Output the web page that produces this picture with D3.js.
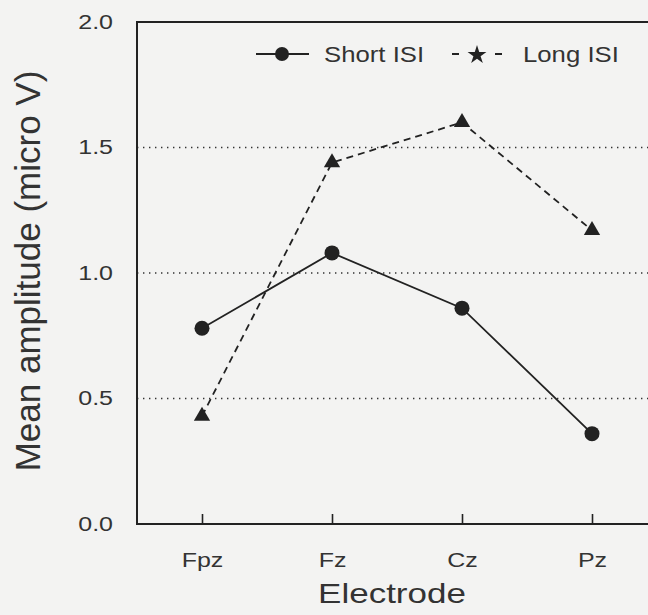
<!DOCTYPE html>
<meta charset="utf-8">
<style>
body {
  margin: 0;
  background: #f3f3f2;
  font-family: "Liberation Sans", Arial, Helvetica, sans-serif;
}

text {
  fill: #333;
}
</style>
<body>
<script src="https://d3js.org/d3.v7.min.js"></script>
<script>

// electrodes along x, mean amplitudes (micro V) per ISI condition
var electrodes = ["Fpz", "Fz", "Cz", "Pz"];
var shortISI = [0.78, 1.08, 0.86, 0.36];
var longISI = [0.43, 1.44, 1.60, 1.17];
var yTicks = [0, 0.5, 1.0, 1.5, 2.0];
var gridValues = [0.5, 1.0, 1.5];

var width = 648,
    height = 615;

var plotLeft = 137, plotTop = 22, plotRight = 657, plotBottom = 524;
var sx = 1.25; // horizontal text stretch of the scanned figure
var ink = "#222";

var svg = d3.select("body").append("svg")
    .attr("width", width)
    .attr("height", height);

var x = d3.scalePoint()
    .domain(electrodes)
    .range([plotLeft, plotRight])
    .padding(0.5);

var y = d3.scaleLinear()
    .domain([0, 2])
    .range([plotBottom, plotTop]);

// dotted reference lines
svg.selectAll(".grid")
    .data(gridValues)
  .enter().append("line")
    .attr("class", "grid")
    .attr("x1", plotLeft)
    .attr("x2", plotRight + 20)
    .attr("y1", function(d) { return y(d); })
    .attr("y2", function(d) { return y(d); })
    .attr("stroke", "#333")
    .attr("stroke-width", 1.4)
    .attr("stroke-dasharray", "1.4,4.6");

// frame
svg.append("rect")
    .attr("x", plotLeft)
    .attr("y", plotTop)
    .attr("width", plotRight + 20 - plotLeft)
    .attr("height", plotBottom - plotTop)
    .attr("fill", "none")
    .attr("stroke", ink)
    .attr("stroke-width", 2);

// y axis, labels only
var yAxis = svg.append("g")
    .attr("transform", "translate(" + plotLeft + ",0)")
    .call(d3.axisLeft(y).tickValues(yTicks).tickFormat(d3.format(".1f")).tickSize(0).tickPadding(24));
yAxis.select(".domain").remove();
yAxis.selectAll("text")
    .attr("x", -24 / sx)
    .attr("transform", "scale(" + sx + ",1)")
    .style("font-size", "20px")
    .style("font-family", "Liberation Sans, Arial, sans-serif")
    .attr("fill", "#333");

// x axis, inward ticks
var xAxis = svg.append("g")
    .attr("transform", "translate(0," + plotBottom + ")")
    .call(d3.axisBottom(x).tickSizeInner(-10).tickSizeOuter(0).tickPadding(29));
xAxis.select(".domain").remove();
xAxis.selectAll("line").attr("stroke", ink).attr("stroke-width", 1.6);
xAxis.selectAll("text")
    .attr("transform", "scale(" + sx + ",1)")
    .style("font-size", "20px")
    .style("font-family", "Liberation Sans, Arial, sans-serif")
    .attr("fill", "#333");

// axis titles
svg.append("text")
    .attr("transform", "translate(392,603) scale(" + sx + ",1)")
    .attr("text-anchor", "middle")
    .style("font-size", "28px")
    .text("Electrode");

svg.append("text")
    .attr("transform", "translate(40,271) rotate(-90)")
    .attr("text-anchor", "middle")
    .style("font-size", "35px")
    .text("Mean amplitude (micro V)");

// series
var line = d3.line()
    .x(function(d, i) { return x(electrodes[i]); })
    .y(function(d) { return y(d); });

svg.append("path")
    .datum(longISI)
    .attr("d", line)
    .attr("fill", "none")
    .attr("stroke", ink)
    .attr("stroke-width", 1.8)
    .attr("stroke-dasharray", "7,5");

svg.append("path")
    .datum(shortISI)
    .attr("d", line)
    .attr("fill", "none")
    .attr("stroke", ink)
    .attr("stroke-width", 1.8);

var tri = d3.symbol().type(d3.symbolTriangle).size(115);

svg.selectAll(".tri")
    .data(longISI)
  .enter().append("path")
    .attr("class", "tri")
    .attr("d", tri)
    .attr("transform", function(d, i) { return "translate(" + x(electrodes[i]) + "," + y(d) + ")"; })
    .attr("fill", ink);

svg.selectAll(".dot")
    .data(shortISI)
  .enter().append("circle")
    .attr("class", "dot")
    .attr("cx", function(d, i) { return x(electrodes[i]); })
    .attr("cy", function(d) { return y(d); })
    .attr("r", 7.5)
    .attr("fill", ink);

// legend
var legend = svg.append("g").attr("transform", "translate(0,54)");

legend.append("line")
    .attr("x1", 256).attr("x2", 309)
    .attr("stroke", ink).attr("stroke-width", 1.8);
legend.append("circle")
    .attr("cx", 282).attr("r", 7)
    .attr("fill", ink);
legend.append("text")
    .attr("transform", "translate(324,8) scale(1.17,1)")
    .style("font-size", "22px")
    .text("Short ISI");

legend.append("line")
    .attr("x1", 452).attr("x2", 502)
    .attr("stroke", ink).attr("stroke-width", 1.8)
    .attr("stroke-dasharray", "7,36,7");
legend.append("path")
    .attr("d", d3.symbol().type(d3.symbolStar).size(110))
    .attr("transform", "translate(477,1)")
    .attr("fill", ink);
legend.append("text")
    .attr("transform", "translate(523,8) scale(1.17,1)")
    .style("font-size", "22px")
    .text("Long ISI");

</script>
